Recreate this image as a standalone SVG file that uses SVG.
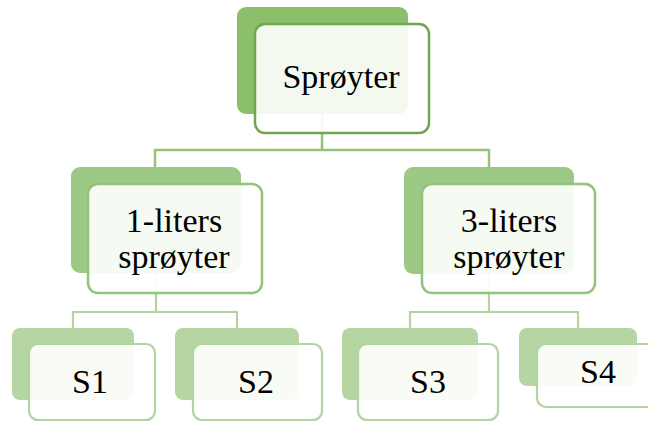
<svg xmlns="http://www.w3.org/2000/svg" width="648" height="421" viewBox="0 0 648 421">
<style>
.t{font-family:"Liberation Serif","Times New Roman",serif;font-size:34px;fill:#000;text-anchor:middle}
.f{fill:#ffffff;fill-opacity:0.9}
.b1{fill:#8cbf6a}.b2{fill:#9cc986}.b3{fill:#b5d6a2}
.s1{stroke:#70a64e;stroke-width:2.5}.s2{stroke:#93c27b;stroke-width:2.5}.s3{stroke:#b3d4a0;stroke-width:2.2}
.c1{fill:none;stroke:#93c27b;stroke-width:2.5}.c2{fill:none;stroke:#b3d4a0;stroke-width:2.2}
</style>
<rect width="648" height="421" fill="#ffffff"/>
<g id="connectors">
<path class="c1" d="M322 114V150M155 150H489M155 149V167M489 149V167"/>
<path class="c2" d="M156 273V312M73 312H237M73 311V328M237 311V328"/>
<path class="c2" d="M489 274V312M410 312H578M410 311V328M578 311V328"/>
</g>
<g id="n-root">
<rect class="b1" x="237" y="7" width="171" height="107" rx="9"/>
<rect class="f s1" x="255" y="24" width="174" height="109" rx="10"/>
<text class="t" x="341" y="88">Sprøyter</text>
</g>
<g id="n-1l">
<rect class="b2" x="71" y="167" width="170" height="106" rx="9"/>
<rect class="f s2" x="88" y="184" width="174" height="109" rx="10"/>
<text class="t" x="174" y="232">1-liters</text>
<text class="t" x="174" y="268">sprøyter</text>
</g>
<g id="n-3l">
<rect class="b2" x="404" y="167" width="170" height="107" rx="9"/>
<rect class="f s2" x="422" y="184" width="173" height="109" rx="10"/>
<text class="t" x="509" y="232">3-liters</text>
<text class="t" x="509" y="268">sprøyter</text>
</g>
<g id="n-s1">
<rect class="b3" x="12" y="328" width="122" height="72" rx="8"/>
<rect class="f s3" x="29" y="344" width="126" height="76" rx="9"/>
<text class="t" x="90" y="393">S1</text>
</g>
<g id="n-s2">
<rect class="b3" x="175" y="328" width="124" height="72" rx="8"/>
<rect class="f s3" x="193" y="344" width="129" height="76" rx="9"/>
<text class="t" x="256" y="393">S2</text>
</g>
<g id="n-s3">
<rect class="b3" x="342" y="328" width="136" height="72" rx="8"/>
<rect class="f s3" x="358" y="344" width="140" height="76" rx="9"/>
<text class="t" x="428" y="393">S3</text>
</g>
<g id="n-s4">
<rect class="b3" x="519" y="328" width="118" height="58" rx="8"/>
<rect class="f s3" x="537" y="344" width="122" height="63" rx="9"/>
<text class="t" x="598" y="383">S4</text>
</g>
</svg>
